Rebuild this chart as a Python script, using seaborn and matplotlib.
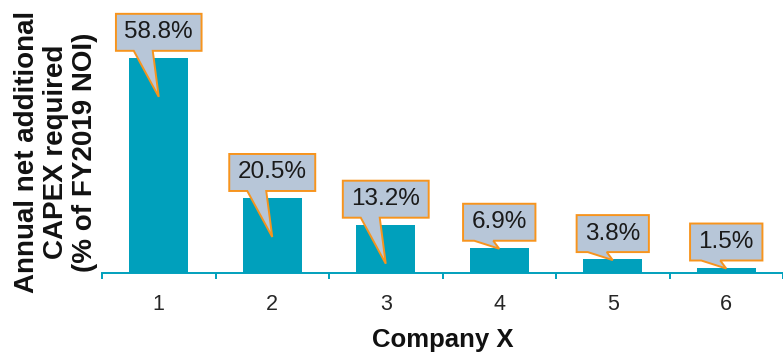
import matplotlib
matplotlib.use("Agg")
import matplotlib.pyplot as plt
from matplotlib.patches import Polygon
import seaborn as sns
import pandas as pd
import numpy as np

# ---- data ----
companies = ["1", "2", "3", "4", "5", "6"]
capex_pct = [58.8, 20.5, 13.2, 6.9, 3.8, 1.5]
value_labels = ["58.8%", "20.5%", "13.2%", "6.9%", "3.8%", "1.5%"]
x_label = "Company X"
y_label = "Annual net additional\nCAPEX required\n(% of FY2019 NOI)"

BAR = "#00A0BC"
BOX_FILL = "#B7C6D8"
BOX_EDGE = "#F7941D"

sns.set_theme(style="white")
plt.rcParams["font.family"] = ["Liberation Sans", "DejaVu Sans"]

df = pd.DataFrame({"company": companies, "value": capex_pct})

fig = plt.figure(figsize=(7.83, 3.54), dpi=100)
ax = fig.add_axes([102 / 783, 81 / 354, 681 / 783, 273 / 354])

sns.barplot(data=df, x="company", y="value", color=BAR, saturation=1,
            width=0.52, ax=ax, order=companies, linewidth=0)
ax.set_xlim(-0.5, 5.42)
ax.set_ylim(0, 74.6)

for s in ["top", "right", "left"]:
    ax.spines[s].set_visible(False)
ax.spines["bottom"].set_color(BAR)
ax.spines["bottom"].set_linewidth(1.4)
ax.set_yticks([])
ax.set_xticks(np.arange(-0.5, 6.0, 1.0), minor=True)
ax.tick_params(axis="x", which="both", bottom=True)
ax.tick_params(axis="x", which="minor", length=4.5, width=1.4, color=BAR, direction="out")
ax.tick_params(axis="x", which="major", length=0, pad=15, labelsize=15.5, labelcolor="#262626")

ax.set_xlabel(x_label, fontsize=18.5, fontweight="bold", color="#111111")
ax.xaxis.set_label_coords(0.5, -0.2)
ax.set_ylabel(y_label, fontsize=20, fontweight="bold", color="#111111",
              va="center", linespacing=1.15)
ax.yaxis.set_label_coords(-0.0675, 0.443)

# ---- callouts ----
fig.canvas.draw()
renderer = fig.canvas.get_renderer()
inv = ax.transData.inverted()
for i, (v, lab) in enumerate(zip(capex_pct, value_labels)):
    cx, ytop = ax.transData.transform((i, v))
    _, y0 = ax.transData.transform((i, 0))
    B = ytop + 7
    T = B + 37
    cy = (B + T) / 2
    tx, ty = inv.transform((cx, cy))
    t = ax.text(tx, ty, lab, ha="center", va="center", fontsize=17.5,
                color="#1a1a1a", zorder=6)
    w = t.get_window_extent(renderer).width
    L = cx - w / 2 - 8.5
    R = cx + w / 2 + 8.5
    depth = 39 if (ytop - y0) > 40 else 1
    tip = ytop - depth
    verts_px = [(L, B), (cx - 25, B), (cx, tip), (cx - 6, B), (R, B), (R, T), (L, T)]
    verts = inv.transform(verts_px)
    poly = Polygon(verts, closed=True, facecolor=BOX_FILL, edgecolor=BOX_EDGE,
                   linewidth=1.4, joinstyle="miter", zorder=5, clip_on=False)
    ax.add_patch(poly)

fig.savefig("out.png", dpi=100)
